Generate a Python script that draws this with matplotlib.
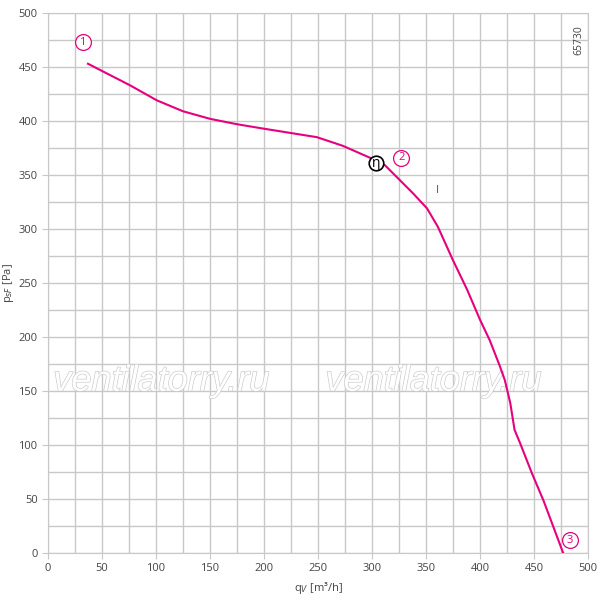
import matplotlib
matplotlib.use('Agg')
import matplotlib.pyplot as plt
import matplotlib.patheffects as pe
import numpy as np

# fan curve
q = [37, 76, 101, 125, 150, 175, 199, 224, 249, 273, 298, 312, 326, 338, 351,
     361, 375, 388, 400, 409, 418, 423, 428, 432, 437, 448, 459, 477]
p = [453, 433, 419, 409, 402, 397, 393, 389, 385, 377, 366, 359, 345, 333, 319,
     302, 271, 244, 216, 197, 174, 160, 139, 114, 102, 74, 48, 0]

eta_q, eta_p = 304, 361
marks = ['1', '2', '3']
mark_q = [32, 327, 483]
mark_p = [473, 366, 12]

pink = '#e6007e'
plt.rcParams['font.family'] = ['Open Sans', 'DejaVu Sans']

fig = plt.figure(figsize=(6, 6.01), dpi=100)
ax = fig.add_axes([0.08, 0.0799, 0.90, 0.8985])

ax.set_xlim(0, 500)
ax.set_ylim(0, 500)
ax.set_xticks(np.arange(0, 501, 25), minor=True)
ax.set_yticks(np.arange(0, 501, 25), minor=True)
ax.set_xticks(np.arange(0, 501, 50))
ax.set_yticks(np.arange(0, 501, 50))
ax.grid(True, which='both', color='#c8c8c8', lw=1)
ax.tick_params(which='minor', length=0)
ax.tick_params(which='major', length=4, color='#c8c8c8', labelsize=8, labelcolor='#444444')
for s in ax.spines.values():
    s.set_color('#c8c8c8')
ax.set_axisbelow(True)

# watermark: white letters with grey outline
for wx in [105, 357]:
    ax.text(wx, 159, 'ventilatorry.ru', ha='center', va='center', fontsize=26,
            family='Liberation Sans', style='italic', color='white', zorder=2,
            path_effects=[pe.withStroke(linewidth=0.9, foreground='#c8c8c8')])

ax.plot(q, p, color=pink, lw=1.5, zorder=3, solid_joinstyle='round')

ax.scatter([eta_q], [eta_p], s=110, facecolor='white', edgecolor='black', lw=1.2, zorder=4)
ax.text(eta_q, eta_p, 'η', ha='center', va='center', fontsize=10, zorder=5)

for m, mq, mp in zip(marks, mark_q, mark_p):
    ax.scatter([mq], [mp], s=130, facecolor='white', edgecolor=pink, lw=0.9, zorder=4)
    ax.text(mq, mp, m, ha='center', va='center', fontsize=8, color=pink, zorder=5)

ax.text(361, 336, 'I', ha='center', va='center', fontsize=8, color=pink)

ax.text(492, 475, '65730', rotation=90, ha='center', va='center', fontsize=7.5, color='#444444')

ax.set_xlabel('q$_V$ [m³/h]', fontsize=8, color='#444444', labelpad=4)
ax.set_ylabel('p$_{sF}$ [Pa]', fontsize=8, color='#444444', labelpad=2)

fig.savefig('out.png', dpi=100)
